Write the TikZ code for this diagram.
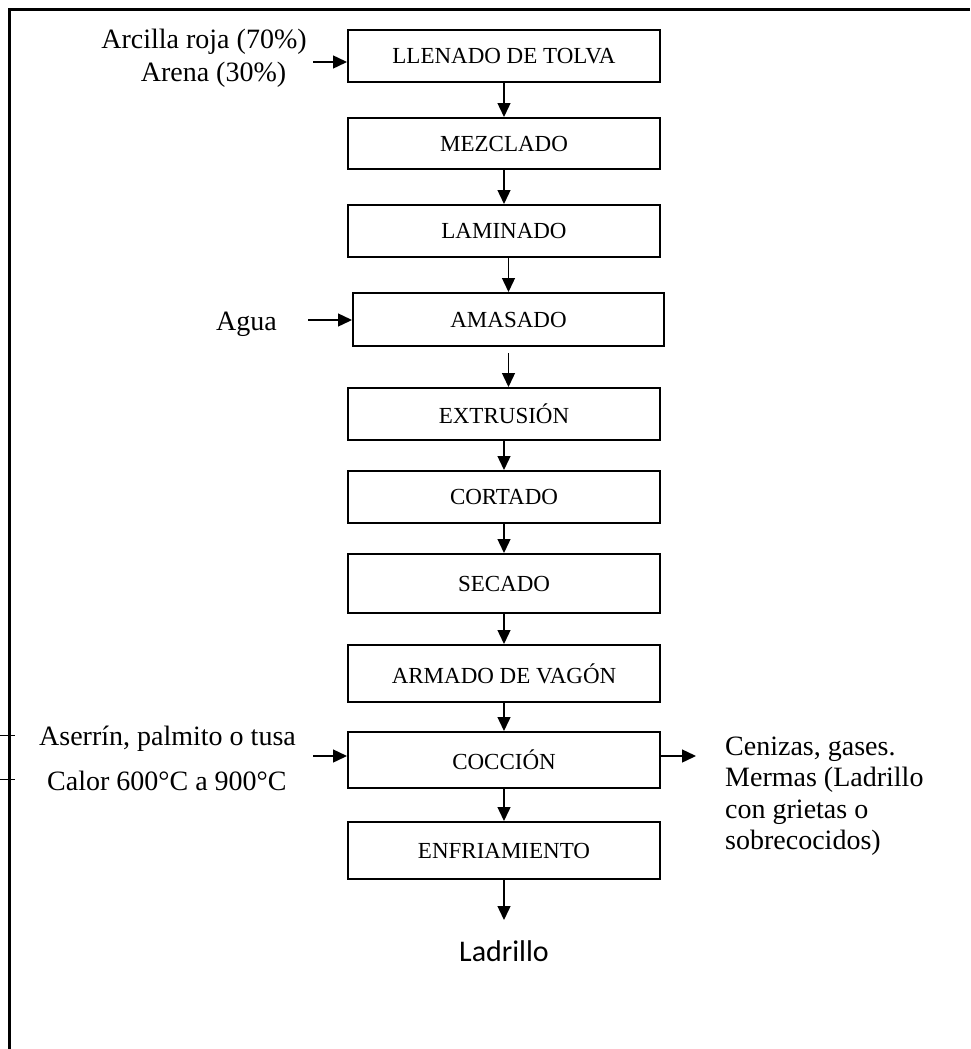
\documentclass[tikz,border=0pt]{standalone}
\usepackage{fontspec}
\setmainfont{Liberation Serif}
\newfontfamily\calfont{Carlito}
\usetikzlibrary{arrows.meta}
\begin{document}
\begin{tikzpicture}[x=1pt,y=-1pt,
  stepbox/.style={draw,line width=2pt,minimum width=312pt,inner sep=0pt,
    font=\fontsize{23}{27}\selectfont},
  flow/.style={line width=1.4pt,-{Triangle[length=14pt,width=13pt]}},
  lbl/.style={inner sep=0pt,font=\fontsize{28}{32}\selectfont},
  tick/.style={line width=1pt}]
\useasboundingbox (0,0) rectangle (970,1049);
% frame
\draw[line width=3.2pt,line join=miter] (9.5,1049) -- (9.5,9.5) -- (970,9.5);
\draw[tick] (0,735) -- (15,735);
\draw[tick] (0,779) -- (15,779);
% boxes
\node[stepbox,minimum height=52pt] (b1) at (504,56) {LLENADO DE TOLVA};
\node[stepbox,minimum height=51pt] (b2) at (504,143.5) {MEZCLADO};
\node[stepbox,minimum height=52pt] (b3) at (504,231) {LAMINADO};
\node[stepbox,minimum height=53pt,minimum width=311pt] (b4) at (508.5,319.5) {AMASADO};
\node[stepbox,minimum height=52pt] (b5) at (504,414) {EXTRUSIÓN};
\node[stepbox,minimum height=52pt] (b6) at (504,497) {CORTADO};
\node[stepbox,minimum height=59pt] (b7) at (504,583.5) {SECADO};
\node[stepbox,minimum height=57pt] (b8) at (504,673.5) {ARMADO DE VAGÓN};
\node[stepbox,minimum height=56pt] (b9) at (504,760) {COCCIÓN};
\node[stepbox,minimum height=57pt] (b10) at (504,850.5) {ENFRIAMIENTO};
% vertical flow
\draw[flow] (b1) -- (b2);
\draw[flow] (b2) -- (b3);
\draw[flow] (b3.south -| b4.north) -- (b4.north);
\draw[flow] ([yshift=-6pt]b4.south) -- (b5.north -| b4.south);
\draw[flow] (b5) -- (b6);
\draw[flow] (b6) -- (b7);
\draw[flow] (b7) -- (b8);
\draw[flow] (b8) -- (b9);
\draw[flow] (b9) -- (b10);
% inputs / outputs
\coordinate (inA) at (313,62);
\coordinate (inB) at (308,320);
\coordinate (inC) at (313,756);
\coordinate (outC) at (696,756);
\coordinate (outL) at (504,920);
\draw[flow] (inA) -- (inA -| b1.west);
\draw[flow] (inB) -- (inB -| b4.west);
\draw[flow] (inC) -- (inC -| b9.west);
\draw[flow] (outC -| b9.east) -- (outC);
\draw[flow] (b10.south) -- (outL);
% labels
\node[lbl,anchor=base] (tA1) at (204,48.3) {Arcilla roja (70\%)};
\node[lbl,anchor=base] (tA2) at (213.5,81.7) {Arena (30\%)};
\node[lbl,anchor=base west] (tB) at (216,330) {Agua};
\node[lbl,anchor=base west] (tC1) at (39,745) {Aserrín, palmito o tusa};
\node[lbl,anchor=base west] (tC2) at (47,790) {Calor 600°C a 900°C};
\node[lbl,anchor=base west] (tD1) at (725,755) {Cenizas, gases.};
\node[lbl,anchor=base west] (tD2) at (725,786.5) {Mermas (Ladrillo};
\node[lbl,anchor=base west] (tD3) at (725,818) {con grietas o};
\node[lbl,anchor=base west] (tD4) at (725,849.5) {sobrecocidos)};
\node[inner sep=0pt,anchor=base,font=\calfont\fontsize{30}{36}\selectfont] (tL) at (504,961) {Ladrillo};
\end{tikzpicture}
\end{document}
